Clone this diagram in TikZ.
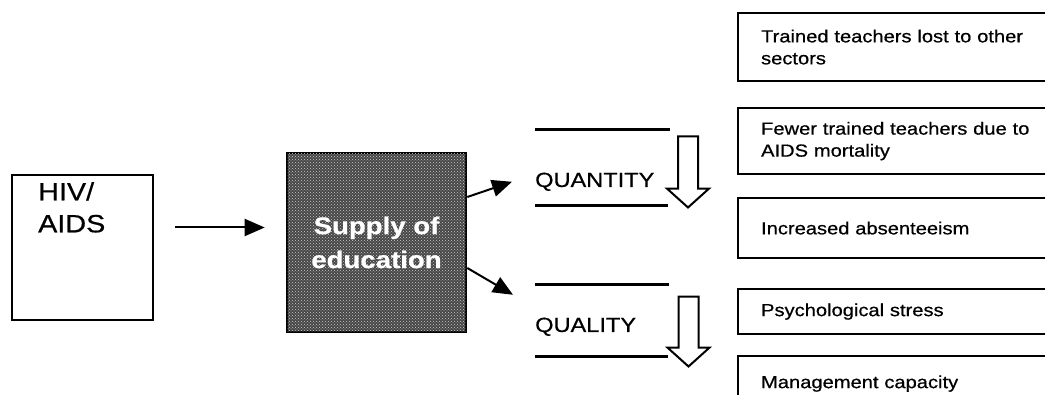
\documentclass[tikz,border=0pt]{standalone}
\usepackage{fontspec}
\setmainfont{Liberation Sans}[FakeStretch=1.15, FakeBold=0.6]
\usetikzlibrary{arrows.meta, positioning, shapes.arrows, patterns}
\tikzstyle{plainbox} = [rectangle, draw=black, line width=2.2pt, fill=white, inner sep=0pt]
\tikzstyle{effect} = [rectangle, draw=black, line width=2.2pt, minimum width=323pt, text width=277pt, inner xsep=23pt, inner ysep=0pt, align=left, anchor=north west, font=\fontsize{17.5}{22}\selectfont]
\tikzstyle{arrow} = [line width=2pt, -{Triangle[length=20pt, width=17pt]}]
\tikzstyle{divider} = [line width=3pt]
\tikzstyle{fallarrow} = [single arrow, draw=black, line width=2pt, fill=white, shape border rotate=270, inner sep=9pt, single arrow head extend=11pt, single arrow tip angle=96, minimum height=71pt]
\tikzstyle{level} = [anchor=base west, inner sep=0pt, font=\fontsize{20.5}{24}\selectfont]

\begin{document}
\begin{tikzpicture}[x=1pt, y=-1pt]
\clip (0,0) rectangle (1045,395);

% Cause
\node (hiv) [plainbox, minimum width=141pt, minimum height=145pt] at (82.5,247.5) {};
\node (hivtext) [anchor=north west, align=left, inner sep=0pt, font=\fontsize{25}{32}\selectfont] at (38,182) {HIV/\\AIDS};

% Supply of education
\node (supply) [rectangle, draw=black, line width=2.6pt, fill=black!72, postaction={pattern=crosshatch dots, pattern color=white!80!black}, minimum width=179pt, minimum height=179pt, align=center, text=white, font=\bfseries\fontsize{24}{34}\selectfont] at (376.5,242.5) {Supply of\\education};

% Quantity and quality
\node (qty) [level] at (535,187) {QUANTITY};
\draw [divider] (535,130) -- (670,130);
\draw [divider] (535,206) -- (668,206);
\node (qtydown) [fallarrow] at (688,167.5) {};

\node (qual) [level] at (535,332) {QUALITY};
\draw [divider] (535,285) -- (669,285);
\draw [divider] (535,357) -- (668,357);
\node (qualdown) [fallarrow, minimum height=70pt] at (688.5,327) {};

% Effects
\node (lost) [effect, minimum height=68pt] at (737,12) {Trained teachers lost to other\\sectors};
\node (mortality) [effect, minimum height=66pt] at (737,107) {Fewer trained teachers due to\\AIDS mortality};
\node (absent) [effect, minimum height=60pt] at (737,197) {Increased absenteeism};
\node (stress) [effect, minimum height=45pt] at (737,288) {Psychological stress};
\node (mgmt) [effect, minimum height=55pt] at (737,355) {Management capacity};

% Arrows
\draw [arrow, shorten <=21pt, shorten >=21pt] ([yshift=20pt]hiv.east) -- ([yshift=15pt]supply.west);
\draw [arrow] ([yshift=45.5pt]supply.east) -- ([xshift=-23pt]qty.west);
\draw [arrow] ([yshift=-25.5pt]supply.east) -- ([shift={(-22pt,32pt)}]qual.west);

\end{tikzpicture}
\end{document}
